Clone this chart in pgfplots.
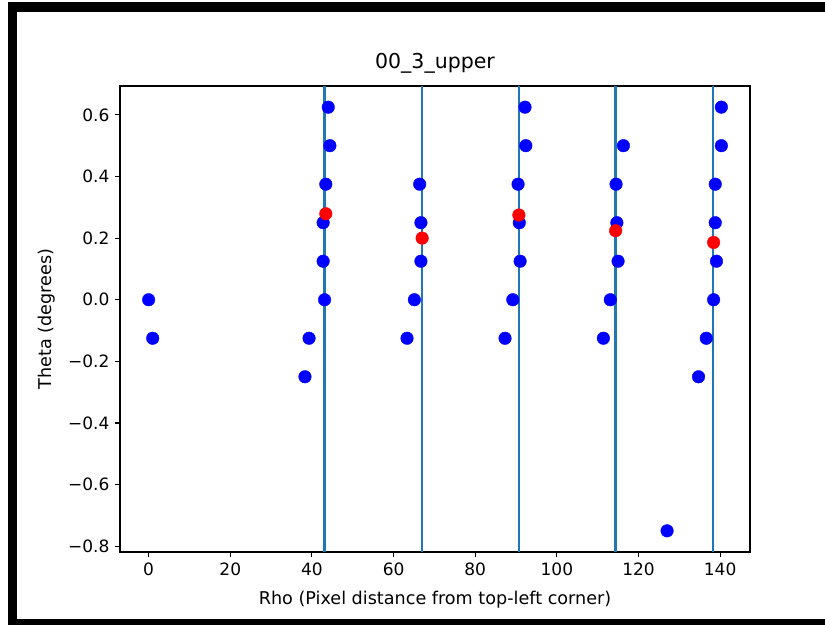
\documentclass[border=0pt]{standalone}
\usepackage{pgfplots}
\pgfplotsset{compat=1.18}
\usepackage{fontspec}
\setmainfont{DejaVu Sans}
\definecolor{mplblue}{HTML}{1F77B4}
\begin{document}
\begin{tikzpicture}[x=1pt,y=1pt]
\fill[white] (0,0) rectangle (825,625);
\useasboundingbox (0,0) rectangle (825,625);
\fill[black] (8,613) rectangle (825,623);
\fill[black] (8,0) rectangle (17,623);
\fill[black] (8,0) rectangle (825,6);
\begin{axis}[
  at={(120pt,73pt)}, anchor=south west,
  width=630pt, height=466pt, scale only axis,
  xmin=-7.015, xmax=147.315, ymin=-0.81875, ymax=0.69375,
  xtick={0,20,40,60,80,100,120,140},
  xticklabels={0,20,40,60,80,100,120,140},
  ytick={-0.8,-0.6,-0.4,-0.2,0,0.2,0.4,0.6},
  yticklabels={−0.8,−0.6,−0.4,−0.2,0.0,0.2,0.4,0.6},
  xtick pos=bottom, ytick pos=left,
  tick align=outside, major tick length=5pt,
  every tick/.style={black, line width=1.1pt},
  axis line style={line width=1.1pt},
  ticklabel style={font=\fontsize{17}{20}\selectfont},
  xticklabel style={yshift=-2pt},
  yticklabel style={xshift=-2pt},
  title={00\_3\_upper},
  title style={at={(axis description cs:0.5,1)}, anchor=base, yshift=11pt, inner sep=0pt, font=\fontsize{20.5}{24}\selectfont},
  xlabel={Rho (Pixel distance from top-left corner)},
  xlabel style={at={(axis description cs:0.5,-0.103)}, anchor=center, font=\fontsize{17.6}{21}\selectfont},
  ylabel={Theta (degrees)},
  ylabel style={at={(axis description cs:-0.1159,0.5)}, anchor=center, font=\fontsize{17.6}{21}\selectfont},
  clip=true,
]
\addplot[blue, only marks, mark=*, mark size=6.3pt] coordinates {
(0,0) (1,-0.125)
(44.0,0.625) (44.4,0.5) (43.4,0.375) (42.75,0.25) (42.75,0.125) (43.1,0) (39.3,-0.125) (38.3,-0.25)
(66.4,0.375) (66.7,0.25) (66.7,0.125) (65.1,0) (63.3,-0.125)
(92.2,0.625) (92.4,0.5) (90.5,0.375) (90.8,0.25) (91.0,0.125) (89.2,0) (87.3,-0.125)
(116.3,0.5) (114.5,0.375) (114.7,0.25) (115.0,0.125) (113.1,0) (111.4,-0.125)
(127.0,-0.75)
(140.3,0.625) (140.3,0.5) (138.8,0.375) (138.8,0.25) (139.1,0.125) (138.4,0) (136.6,-0.125) (134.7,-0.25)
};
\addplot[red, only marks, mark=*, mark size=6.3pt] coordinates {
(43.4,0.279) (67.0,0.2) (90.7,0.275) (114.4,0.224) (138.4,0.186)
};
\addplot[mplblue, line width=2.4pt] coordinates {(43.1,-0.81875) (43.1,0.69375)};
\addplot[mplblue, line width=2.4pt] coordinates {(67.0,-0.81875) (67.0,0.69375)};
\addplot[mplblue, line width=2.4pt] coordinates {(90.7,-0.81875) (90.7,0.69375)};
\addplot[mplblue, line width=2.4pt] coordinates {(114.4,-0.81875) (114.4,0.69375)};
\addplot[mplblue, line width=2.4pt] coordinates {(138.2,-0.81875) (138.2,0.69375)};
\end{axis}
\end{tikzpicture}
\end{document}
